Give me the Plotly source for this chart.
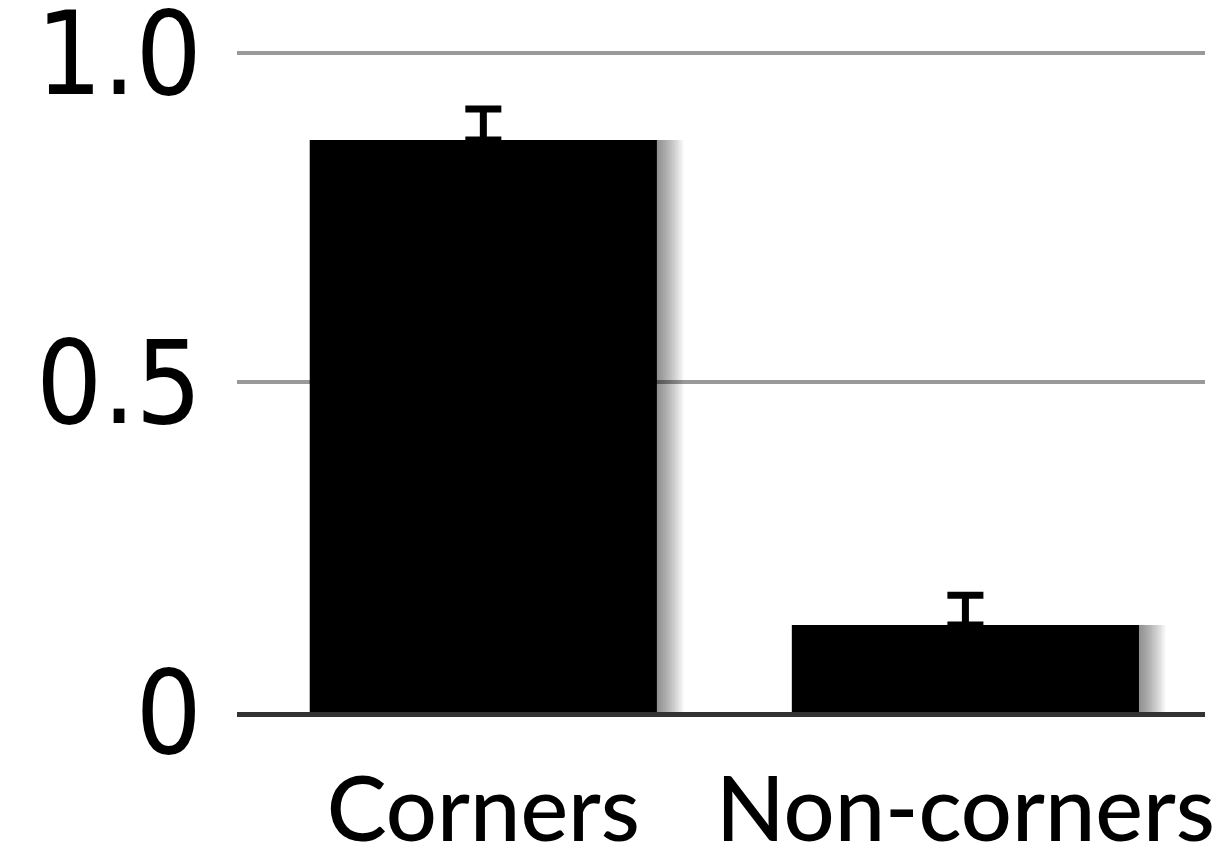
import plotly.graph_objects as go

# Proportion of responses by location type
categories = ["Corners", "Non-corners"]
values = [0.868, 0.132]
errors = [0.047, 0.045]
y_tick_vals = [0, 0.5, 1.0]
y_tick_text = ["0", "0.5", "1.0"]

TEXT_FONT = "Lato"
NUM_FONT = "Liberation Sans Narrow, DejaVu Sans Condensed, Lato"

BAR_WIDTH = 0.72
PX = 1 / 482.0  # one pixel in x-axis units

x_pos = list(range(len(categories)))

fig = go.Figure()

# soft drop shadow fading out to the right of each bar
for k in range(1, 13):
    fig.add_trace(go.Bar(
        x=x_pos,
        y=values,
        width=BAR_WIDTH + k * 2.2 * PX,
        offset=-BAR_WIDTH / 2,
        marker=dict(color="rgba(0,0,0,0.045)", line=dict(width=0)),
        hoverinfo="skip",
        showlegend=False,
    ))

fig.add_trace(go.Bar(
    x=x_pos,
    y=values,
    width=BAR_WIDTH,
    offset=-BAR_WIDTH / 2,
    marker=dict(color="black", line=dict(width=0)),
    error_y=dict(
        type="data",
        symmetric=False,
        array=errors,
        arrayminus=[0] * len(errors),
        color="black",
        thickness=7,
        width=18,
    ),
    showlegend=False,
))

fig.update_layout(
    width=1220,
    height=863,
    barmode="overlay",
    margin=dict(l=237, r=15, t=51, b=151),
    paper_bgcolor="white",
    plot_bgcolor="white",
    font=dict(family=TEXT_FONT, color="black"),
    xaxis=dict(
        range=[-0.511, 1.497],
        tickvals=x_pos,
        ticktext=categories,
        tickfont=dict(size=90, family=TEXT_FONT, color="black", weight=500),
        showgrid=False,
        zeroline=False,
        showline=True,
        linecolor="#333333",
        linewidth=5,
        ticks="",
        ticklabelstandoff=16,
        ticklabeloverflow="allow",
        automargin=False,
    ),
    yaxis=dict(
        range=[0, 1.003],
        tickvals=y_tick_vals,
        ticktext=y_tick_text,
        tickfont=dict(size=116, family=NUM_FONT, color="black"),
        showgrid=True,
        gridcolor="#999999",
        gridwidth=4,
        zeroline=False,
        showline=False,
        ticks="",
        ticklabelstandoff=34,
        ticklabeloverflow="allow",
        automargin=False,
    ),
)

fig.write_html("out.html")
